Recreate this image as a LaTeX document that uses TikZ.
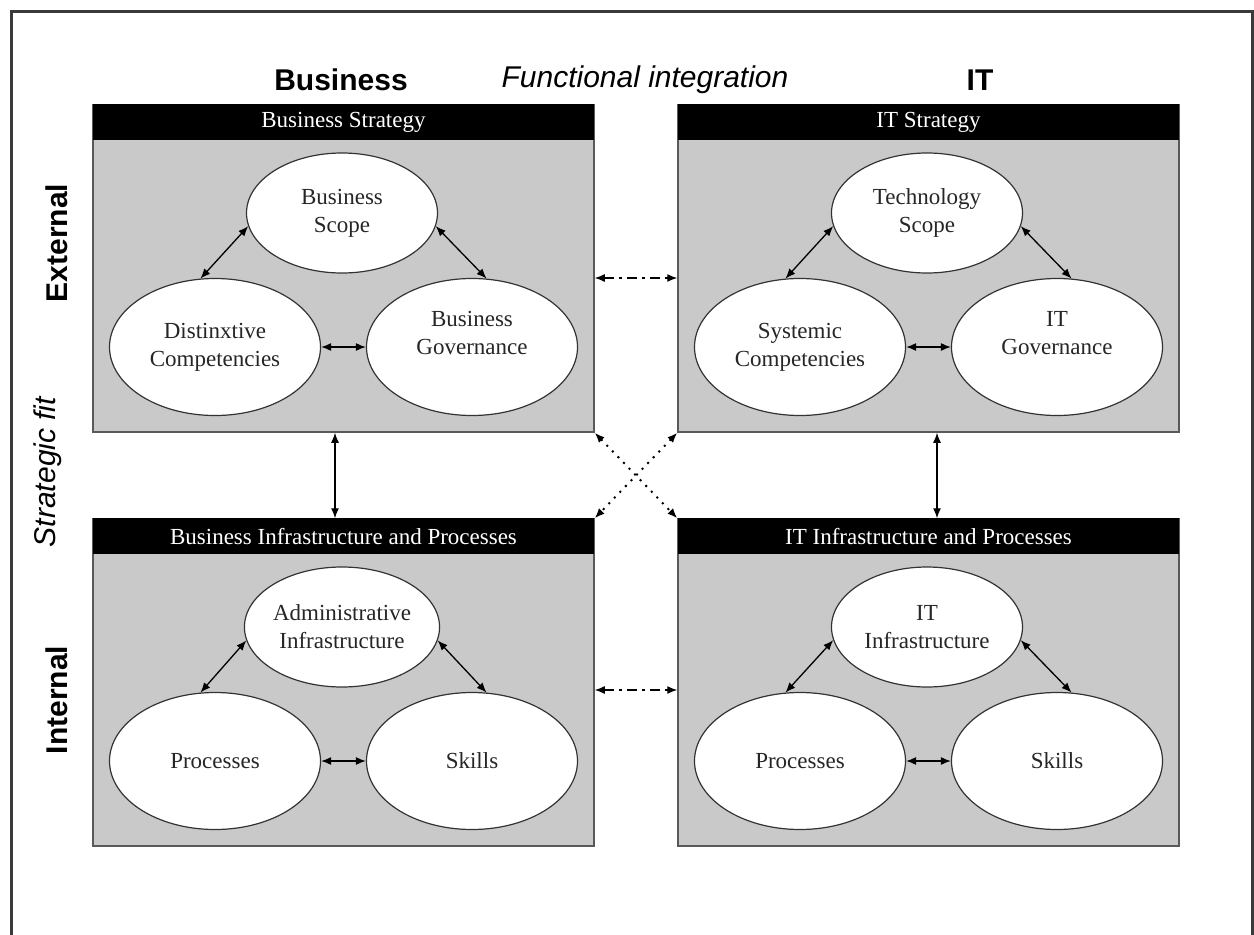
\documentclass[tikz,border=0pt]{standalone}
\usepackage{fontspec}
\setmainfont{Liberation Serif}
\newfontfamily\headfont{Liberation Sans}
\usetikzlibrary{shapes.geometric, arrows.meta}
\definecolor{panelgray}{RGB}{201,201,201}
\definecolor{framegray}{RGB}{58,58,58}

\begin{document}
\begin{tikzpicture}[x=1pt, y=-1pt, node distance=585pt,
    panel/.style={rectangle, draw=black!65, line width=1.5pt, fill=panelgray,
    minimum width=501pt, minimum height=327pt, inner sep=0pt},
    header/.style={rectangle, fill=black, text=white, anchor=north, inner sep=0pt,
    minimum width=501pt, minimum height=36pt, font=\fontsize{23}{28}\selectfont},
    oval/.style={ellipse, draw=black!80, line width=1.2pt, fill=white, text=black!85,
    align=center, inner sep=0pt, font=\fontsize{23}{28}\selectfont},
    small/.style={oval, minimum width=191pt, minimum height=120pt},
    big/.style={oval, minimum width=211pt, minimum height=137pt},
    title/.style={font=\headfont\fontsize{30}{36}\selectfont\bfseries},
    theme/.style={font=\headfont\fontsize{30}{36}\selectfont\itshape},
    line/.style={draw, {Latex[length=10pt,width=8pt]}-{Latex[length=10pt,width=8pt]},
    line width=1.3pt},
    dashdot/.style={line, dash pattern=on 10pt off 5pt on 3pt off 5pt},
    dots/.style={line, line width=2pt, dash pattern=on 2pt off 6pt}]

\useasboundingbox (0,0) rectangle (1254,935);
\draw[framegray, line width=3pt] (11,935) -- (11,11) -- (1252,11) -- (1252,935);

% headings
\node[title] (business) at (341,80) {Business};
\node[theme] (functional) at (645,80) {Functional integration};
\node[title] (itcol) at (980,80) {IT};
\node[title, rotate=90] (external) at (57,243) {External};
\node[theme, rotate=90] (fit) at (48,472) {Strategic fit};
\node[title, rotate=90] (internal) at (57,700) {Internal};

% the four domains
\node [panel] (bs) at (343.5,268.5) {};
\node [panel, right of=bs] (its) {};
\node [panel, below of=bs, node distance=414pt] (bi) {};
\node [panel, right of=bi] (iti) {};

\node [header] (bsh) at (bs.north) {Business Strategy};
\node [header] (itsh) at (its.north) {IT Strategy};
\node [header] (bih) at (bi.north) {Business Infrastructure and Processes};
\node [header] (itih) at (iti.north) {IT Infrastructure and Processes};

% business strategy
\node [small] (bscope) at (342,213) {Business\\Scope};
\node [big] (bcomp) at (215,347) {Distinxtive\\Competencies};
\node [big] (bgov) at (472,347) {Business\\Governance\\~};

% it strategy
\node [small] (tscope) at (927,213) {Technology\\Scope};
\node [big] (tcomp) at (800,347) {Systemic\\Competencies};
\node [big] (tgov) at (1057,347) {IT\\Governance\\~};

% business infrastructure
\node [small] (binfra) at (342,627) {Administrative\\Infrastructure};
\node [big] (bproc) at (215,761) {Processes};
\node [big] (bskill) at (472,761) {Skills};

% it infrastructure
\node [small] (tinfra) at (927,627) {IT\\Infrastructure};
\node [big] (tproc) at (800,761) {Processes};
\node [big] (tskill) at (1057,761) {Skills};

\path [line] (bcomp.102) -- (bscope.188);
\path [line] (bgov.78) -- (bscope.352);
\path [line] (bcomp.east) -- (bgov.west);
\path [line] (tcomp.102) -- (tscope.188);
\path [line] (tgov.78) -- (tscope.352);
\path [line] (tcomp.east) -- (tgov.west);
\path [line] (bproc.102) -- (binfra.188);
\path [line] (bskill.78) -- (binfra.352);
\path [line] (bproc.east) -- (bskill.west);
\path [line] (tproc.102) -- (tinfra.188);
\path [line] (tskill.78) -- (tinfra.352);
\path [line] (tproc.east) -- (tskill.west);

% alignment links
\path [dashdot] ([yshift=-9.5pt]bs.east) -- ([yshift=-9.5pt]its.west);
\path [dashdot] ([yshift=-7.5pt]bi.east) -- ([yshift=-7.5pt]iti.west);
\path [line] ([xshift=-8.5pt]bs.south) -- ([xshift=-8.5pt]bi.north);
\path [line] ([xshift=8.5pt]its.south) -- ([xshift=8.5pt]iti.north);
\path [dots] (bs.south east) -- (iti.north west);
\path [dots] (its.south west) -- (bi.north east);
\end{tikzpicture}
\end{document}
